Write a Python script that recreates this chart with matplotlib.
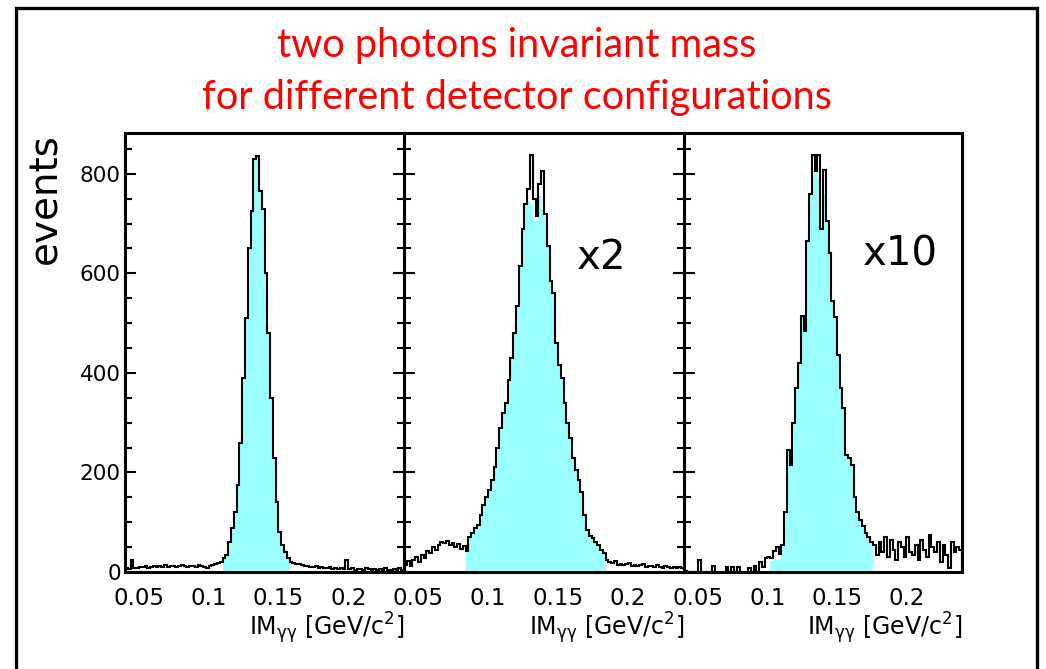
import numpy as np
import matplotlib
matplotlib.use("Agg")
import matplotlib.pyplot as plt
from matplotlib.ticker import MultipleLocator
from matplotlib.patches import Rectangle

plt.rcParams["mathtext.default"] = "regular"

# binning of the three histograms (IM_gg in GeV/c^2)
x_lo, x_hi, n_bins = 0.04, 0.24, 100

# panel 1: nominal detector
total_p1 = [8, 7, 24, 9, 8, 11, 10, 12, 9, 11, 13, 10, 12, 11, 14, 10, 12, 13, 11, 12,
            14, 12, 11, 13, 12, 10, 15, 12, 11, 9, 13, 14, 16, 18,
            20, 28, 35, 60, 88, 120, 175, 260, 390, 510, 650, 725, 830, 835, 765, 730,
            600, 480, 350, 230, 140, 80, 55, 40, 28, 20,
            18, 16, 17, 14, 12, 13, 11, 10, 12, 9, 10, 8, 9, 11, 7, 8, 6, 9, 7, 25,
            6, 8, 5, 7, 6, 5, 8, 6, 5, 7, 4, 6, 5, 9, 5, 4, 6, 5, 8, 5]
fill_range_p1 = (35, 59)
fill_fix_p1 = {}

# panel 2: resolution x2
total_p2 = [15, 22, 12, 25, 30, 20, 35, 28, 42, 38, 50, 44, 55, 60, 58, 62, 55, 58, 50, 56,
            47, 52, 42, 70, 78, 88, 95, 115, 135, 150, 165, 185, 210, 250, 290, 320, 340, 385,
            430, 480, 535, 615, 690, 740, 770, 838, 750, 715, 780, 805, 720, 655, 585, 560,
            460, 415, 390, 340, 300, 270, 230, 205, 185, 160, 115, 85, 72, 68, 60, 55, 45,
            38, 25,
            20, 18, 22, 15, 17, 14, 16, 19, 13, 15, 12, 14, 16, 11, 13, 12, 10, 14, 11, 9,
            12, 10, 8, 11, 9, 10, 8]
fill_range_p2 = (22, 72)
fill_fix_p2 = {44: 745, 45: 740, 46: 705, 47: 710, 48: 755, 49: 730, 50: 715}

# panel 3: resolution x10
total_p3 = [3, 0, 0, 0, 0, 24, 0, 0, 0, 0, 12, 0, 0, 0, 0, 10, 0, 10, 0, 10,
            0, 0, 0, 8, 0, 12, 0, 20, 10, 28, 30, 28, 42, 50, 36, 55, 120, 245, 215, 300,
            370, 420, 515, 485, 665, 760, 838, 805, 838, 690, 808, 705, 640, 545, 513, 435,
            370, 330, 235, 230, 215, 150, 120, 105, 92, 78, 70, 60,
            55, 35, 60, 40, 70, 30, 65, 45, 25, 60, 50, 30, 70, 40, 35, 55, 25, 65, 45, 30,
            75, 50, 40, 60, 20, 55, 35, 8, 60, 40, 50, 45]
fill_range_p3 = (31, 68)
fill_fix_p3 = {31: 22, 32: 24, 33: 24, 34: 26, 35: 50, 46: 800, 48: 790, 50: 760}

scale_labels = [None, "x2", "x10"]
scale_pos = [None, (0.707, 0.715), (0.777, 0.724)]
xtick_vals = [0.05, 0.1, 0.15, 0.2]
xtick_text = ["0.05", "0.1", "0.15", "0.2"]

title_lines = ["two photons invariant mass", "for different detector configurations"]

cyan = "#9bffff"
edges = np.linspace(x_lo, x_hi, n_bins + 1)


def make_fill(total, rng, fixes):
    fill = np.zeros(len(total))
    fill[rng[0]:rng[1]] = np.asarray(total, float)[rng[0]:rng[1]]
    for k, v in fixes.items():
        fill[k] = v
    return fill


fig = plt.figure(figsize=(10.46, 6.69), dpi=100)

lefts = [125, 404, 684]
widths = [279, 280, 278]
panels = [(total_p1, fill_range_p1, fill_fix_p1),
          (total_p2, fill_range_p2, fill_fix_p2),
          (total_p3, fill_range_p3, fill_fix_p3)]

for j, (total, rng, fixes) in enumerate(panels):
    ax = fig.add_axes([lefts[j] / 1046, 1 - 572 / 669, widths[j] / 1046, 439 / 669])
    ax.stairs(make_fill(total, rng, fixes), edges, fill=True, color=cyan, lw=0)
    ax.stairs(total, edges, color="black", lw=1.5)
    ax.set_xlim(x_lo, x_hi)
    ax.set_ylim(0, 882)
    ax.set_xticks(xtick_vals)
    ax.set_xticklabels(xtick_text)
    ax.yaxis.set_major_locator(MultipleLocator(200))
    ax.yaxis.set_minor_locator(MultipleLocator(50))
    ax.tick_params(axis="x", length=0, pad=11, labelsize=16.5)
    ax.tick_params(axis="y", which="both", direction="in", right=(j < 2),
                   labelsize=15.5, pad=3, width=1.5)
    ax.tick_params(axis="y", which="major", length=8)
    ax.tick_params(axis="y", which="minor", length=5)
    if j > 0:
        ax.tick_params(axis="y", labelleft=False)
    for s in ax.spines.values():
        s.set_linewidth(2.2)
    ax.set_xlabel(r"IM$_{\gamma\gamma}$ [GeV/c$^{2}$]", fontsize=17, loc="right",
                  labelpad=0)
    if scale_labels[j]:
        ax.text(scale_pos[j][0], scale_pos[j][1], scale_labels[j],
                transform=ax.transAxes, fontsize=29, ha="center", va="center")

fig.text(45 / 1046, 1 - 133 / 669, "events", rotation=90, fontsize=28,
         ha="center", va="top")

fig.text(517 / 1046, 1 - 45 / 669, title_lines[0], color="red", fontsize=28.5,
         family="Lato", ha="center", va="center")
fig.text(517 / 1046, 1 - 97 / 669, title_lines[1], color="red", fontsize=28.5,
         family="Lato", ha="center", va="center")

# outer frame of the slide
fig.patches.append(Rectangle((16 / 1046, -0.05), (1037 - 16) / 1046, 1.05 - 8 / 669,
                             transform=fig.transFigure, fill=False, lw=2.4,
                             edgecolor="black"))

fig.savefig("out.png", dpi=100)
